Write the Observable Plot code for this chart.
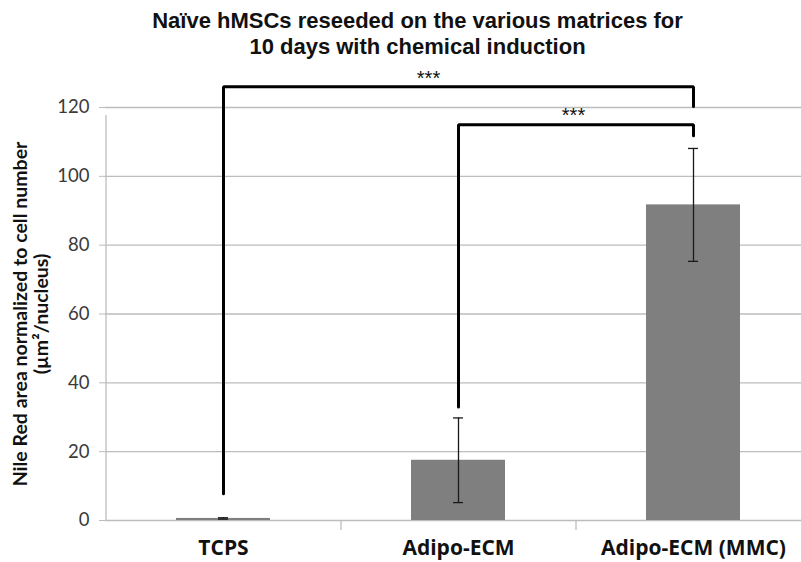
<!DOCTYPE html>
<html>
<head>
<meta charset="utf-8">
<script src="https://cdn.jsdelivr.net/npm/d3@7"></script>
<script src="https://cdn.jsdelivr.net/npm/@observablehq/plot@0.6"></script>
<style>
  body { margin: 0; background: #fff; }
  #title { height: 60px; box-sizing: border-box; padding: 8px 0 0 34px; text-align: center;
    font-family: "Liberation Sans", Arial, sans-serif; font-weight: bold; font-size: 22px; line-height: 26px; color: #111; }
</style>
</head>
<body>
<div id="title">Naïve hMSCs reseeded on the various matrices for<br>10 days with chemical induction</div>
<div id="chart"></div>
<script>
// Data
const categories = ["TCPS", "Adipo-ECM", "Adipo-ECM (MMC)"];
const means = [0.6, 17.5, 91.7];
const errors = [0.2, 12.3, 16.4];
const yTicks = [0, 20, 40, 60, 80, 100, 120];
const yLabel = "Nile Red area normalized to cell number\n(µm²/nucleus)";

// significance brackets
const bracketFrom = ["TCPS", "Adipo-ECM"];
const bracketTo = ["Adipo-ECM (MMC)", "Adipo-ECM (MMC)"];
const bracketLeftEnd = [7.8, 33];
const bracketTop = [126, 115];
const bracketRightEnd = [120.3, 111.8];
const starLabels = ["***", "***"];
const starY = [128.3, 117.7];

const data = categories.map((c, i) => ({cat: c, mean: means[i], lo: means[i] - errors[i], hi: means[i] + errors[i]}));
const bracketPts = bracketFrom.map((f, i) => [
  {x: f, y: bracketLeftEnd[i], g: i},
  {x: f, y: bracketTop[i], g: i},
  {x: bracketTo[i], y: bracketTop[i], g: i},
  {x: bracketTo[i], y: bracketRightEnd[i], g: i}
]).flat();
const stars = starLabels.map((s, i) => ({s, x: "Adipo-ECM", y: starY[i], k: i}));

const step = 235, half = step / 2;
const gridColor = "#bdbdbd";
const font = "Lato, 'Open Sans', sans-serif";

const plot = Plot.plot({
  width: 801,
  height: 502,
  marginTop: 47,
  marginBottom: 42,
  marginLeft: 105,
  marginRight: 0,
  style: {fontFamily: font, background: "#fff"},
  x: {type: "band", domain: categories, range: [105, 810], paddingInner: 0.6, paddingOuter: 0.3, label: null},
  y: {domain: [0, 120], label: null},
  marks: [
    Plot.ruleY(yTicks, {stroke: gridColor, strokeWidth: 1.3}),
    Plot.ruleX([categories[0]], {dx: -half, y1: 0, y2: 120, insetBottom: -8, stroke: gridColor, strokeWidth: 1.3}),
    Plot.ruleX(categories.slice(0, 2), {dx: half, y1: 0, y2: 0, insetBottom: -10, stroke: gridColor, strokeWidth: 1.3}),
    Plot.barY(data, {x: "cat", y: "mean", fill: "#7f7f7f"}),
    Plot.ruleX(data, {x: "cat", y1: "lo", y2: "hi", stroke: "#1a1a1a", strokeWidth: 1.3}),
    Plot.tickY(data, {x: "cat", y: "lo", stroke: "#1a1a1a", strokeWidth: 1.3, insetLeft: 42, insetRight: 42}),
    Plot.tickY(data, {x: "cat", y: "hi", stroke: "#1a1a1a", strokeWidth: 1.3, insetLeft: 42, insetRight: 42}),
    Plot.line(bracketPts, {x: "x", y: "y", z: "g", stroke: "#000", strokeWidth: 3, strokeLinejoin: "miter", curve: "linear"}),
    Plot.text(stars.filter(d => d.k === 0), {x: "x", y: "y", text: "s", dx: -30, fontSize: 20, fontFamily: "'Liberation Sans', Arial, sans-serif", fill: "#111"}),
    Plot.text(stars.filter(d => d.k === 1), {x: "x", y: "y", text: "s", dx: 115, fontSize: 20, fontFamily: "'Liberation Sans', Arial, sans-serif", fill: "#111"}),
    Plot.axisY({ticks: yTicks, tickSize: 6, tickPadding: 10, fontSize: 18.5, stroke: gridColor, color: "#3a3a3a", label: null}),
    Plot.axisX({tickSize: 0, tickPadding: 20, fontSize: 21, fontFamily: "'Open Sans', Lato, sans-serif", fontWeight: "bold", color: "#111", label: null}),
    Plot.text([yLabel], {text: d => d, frameAnchor: "left", textAnchor: "middle", rotate: -90, dx: -75, fontSize: 19.5, fontWeight: "bold", lineHeight: 1.1, fill: "#111"})
  ]
});
document.getElementById("chart").appendChild(plot);
</script>
</body>
</html>
